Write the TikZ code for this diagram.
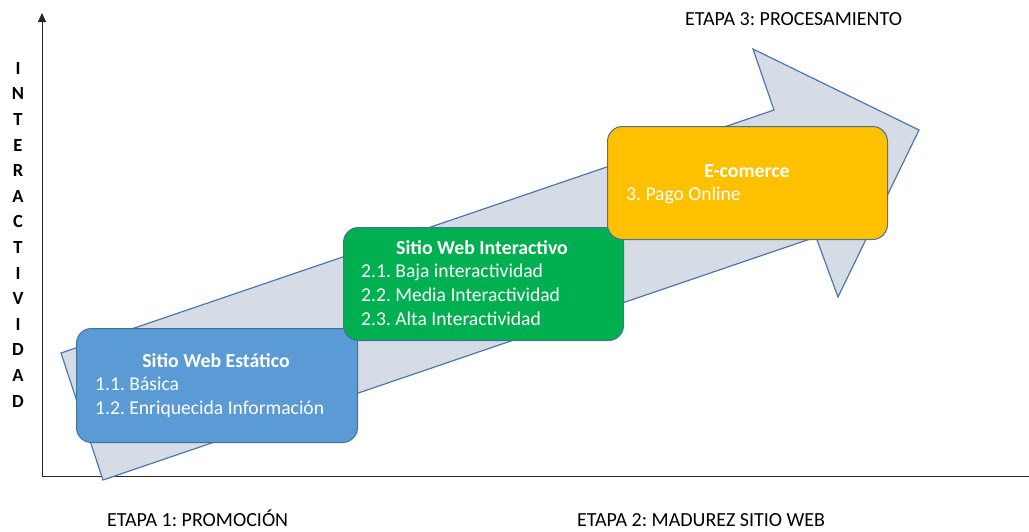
\documentclass[tikz,border=0pt]{standalone}
\usepackage{fontspec}
\setmainfont{Carlito}
\frenchspacing
\usetikzlibrary{arrows.meta}
\definecolor{arrowfill}{HTML}{D6DCE5}
\definecolor{arrowline}{HTML}{4A7AAB}
\definecolor{boxline}{HTML}{41719C}
\definecolor{bluebox}{HTML}{5B9BD5}
\definecolor{greenbox}{HTML}{00B050}
\definecolor{yellowbox}{HTML}{FFC000}
\begin{document}
\frenchspacing
\begin{tikzpicture}[x=1pt,y=-1pt,
  axis/.style={line width=1pt, black!85},
  bigarrow/.style={fill=arrowfill, draw=arrowline, line width=1.2pt, line join=miter},
  stagebox/.style={draw=boxline, line width=1pt, rounded corners=15pt, anchor=north west, inner sep=0pt},
  boxtitle/.style={text=white, font=\frenchspacing\bfseries\fontsize{19.8}{23}\selectfont, anchor=mid, inner sep=0pt},
  boxitem/.style={text=white, font=\frenchspacing\fontsize{19.6}{23}\selectfont, anchor=mid west, inner sep=0pt},
  stagelabel/.style={font=\frenchspacing\fontsize{20}{24}\selectfont, anchor=mid west, inner sep=0pt},
  ylet/.style={font=\bfseries\fontsize{18.5}{22}\selectfont, anchor=mid, inner sep=0pt}]
\useasboundingbox (0,0) rectangle (1029,531);
% axes
\coordinate (o) at (42,476);
\coordinate (ytop) at (42,13);
\coordinate (xend) at (1029,476);
\draw[axis, -{Triangle[length=9pt,width=8pt]}] (o) -- (ytop);
\draw[axis] (o) -- (xend);
% big arrow
\draw[bigarrow] (61,353) -- (774,110) -- (753,49) -- (919,130) -- (838,297) -- (816,237) -- (103,480) -- cycle;
% boxes
\node[stagebox, fill=bluebox, minimum width=281pt, minimum height=114pt] (b1) at (76,328) {};
\node[stagebox, fill=greenbox, minimum width=280pt, minimum height=113pt] (b2) at (343,227) {};
\node[stagebox, fill=yellowbox, minimum width=280pt, minimum height=113pt] (b3) at (607,126) {};
% box texts
\node[boxtitle] (t1) at (216,365) {Sitio Web Estático};
\node[boxitem] (t11) at (95,388) {1.1. Básica};
\node[boxitem] (t12) at (95,412) {1.2. Enriquecida Información};
\node[boxtitle] (t2) at (482,252) {Sitio Web Interactivo};
\node[boxitem] (t21) at (361,275) {2.1. Baja interactividad};
\node[boxitem] (t22) at (361,299) {2.2. Media Interactividad};
\node[boxitem] (t23) at (361,323) {2.3. Alta Interactividad};
\node[boxtitle] (t3) at (747,175) {E-comerce};
\node[boxitem] (t31) at (626,198) {3. Pago Online};
% stage labels
\node[stagelabel] (e3) at (685,23) {ETAPA 3: PROCESAMIENTO};
\node[stagelabel] (e1) at (107,524) {ETAPA 1: PROMOCIÓN};
\node[stagelabel] (e2) at (577,524) {ETAPA 2: MADUREZ SITIO WEB};
% vertical label
\foreach \c [count=\i] in {I,N,T,E,R,A,C,T,I,V,I,D,A,D}{
  \node[ylet] (y\i) at (18,{72+25.6*(\i-1)}) {\c};
}
\end{tikzpicture}
\end{document}
